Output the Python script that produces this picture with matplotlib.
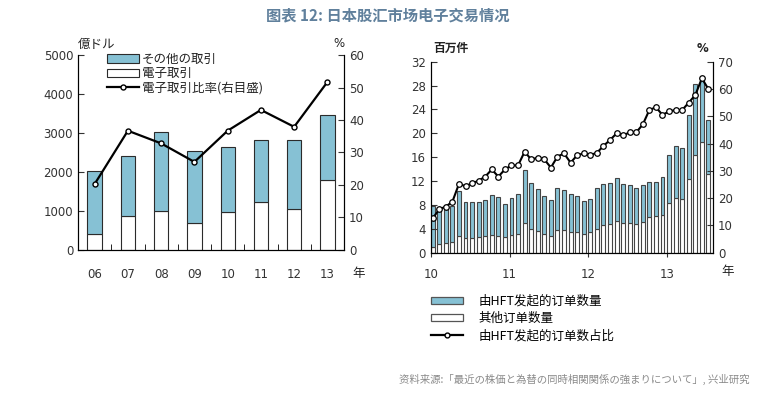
'''
Japan equity / FX electronic trading: annual bars (left) and monthly HFT orders (right)
'''
import numpy as np
import matplotlib.pyplot as plt
from matplotlib.patches import Patch
from matplotlib.lines import Line2D

plt.rcParams['font.family'] = ['DejaVu Sans', 'Noto Sans CJK JP']

# left panel data (億ドル, %)
years = ["06", "07", "08", "09", "10", "11", "12", "13"]
electronic = [410, 880, 1000, 690, 970, 1220, 1060, 1790]
other = [1610, 1520, 2030, 1860, 1680, 1610, 1770, 1670]
electronic_ratio = [20.3, 36.7, 32.8, 27.1, 36.7, 43.1, 37.9, 51.7]

# right panel data, monthly Jan 2010 - Jul 2013 (百万件, %)
month_bottom = [1.0, 1.4, 1.6, 1.8, 2.8, 2.5, 2.5, 2.6, 2.8, 3.0, 2.8, 2.7,
                3.0, 3.2, 5.0, 4.0, 3.6, 3.2, 2.8, 3.8, 3.8, 3.4, 3.4, 3.2,
                3.5, 4.0, 4.6, 4.8, 5.3, 5.0, 5.0, 4.8, 5.2, 6.0, 6.2, 6.4,
                8.4, 9.2, 9.0, 12.4, 16.4, 18.6, 13.2]
month_total = [7.8, 7.3, 7.5, 7.8, 10.4, 8.5, 8.5, 8.5, 8.9, 9.7, 9.3, 8.1,
               9.1, 9.9, 13.8, 11.7, 10.6, 9.5, 8.8, 10.9, 10.5, 9.9, 9.5, 8.7,
               9.0, 10.9, 11.5, 11.6, 12.5, 11.5, 11.3, 10.9, 11.3, 11.9, 11.9, 12.7,
               16.4, 17.8, 17.5, 23.1, 28.2, 29.1, 22.3]
month_ratio = [12.6, 15.9, 16.9, 18.7, 25.2, 24.4, 25.4, 26.4, 27.9, 30.5, 27.9, 30.5,
               32.0, 32.0, 37.0, 34.2, 34.8, 34.2, 31.2, 35.2, 36.4, 33.0, 35.7, 36.4,
               35.8, 36.6, 39.1, 41.3, 43.7, 43.0, 44.1, 44.1, 47.0, 52.3, 53.3, 50.5,
               51.8, 52.3, 52.3, 55.0, 57.8, 63.9, 59.9]
year_ticks = ["10", "11", "12", "13"]

blue = "#86c1d4"
edge = "#2b2b2b"
tick_color = "#333333"

fig = plt.figure(figsize=(7.81, 3.94), dpi=100)

fig.text(0.497, 0.962, "图表 12: 日本股汇市场电子交易情况", ha="center", va="center",
         fontsize=11, color="#60809c", fontweight="bold",
         family=["Noto Sans CJK SC", "DejaVu Sans"])
fig.text(0.96, 0.038, "资料来源:「最近の株価と為替の同時相関関係の強まりについて」, 兴业研究",
         ha="right", va="center", fontsize=7.5, color="#8a8a8a",
         family=["Noto Sans CJK JP", "DejaVu Sans"])

# ---- left panel
ax1 = fig.add_axes([0.0999, 0.3655, 0.3406, 0.4949])
x = np.arange(len(years))
ax1.bar(x, electronic, width=0.43, color="white", edgecolor=edge, linewidth=0.8)
ax1.bar(x, other, width=0.43, bottom=electronic, color=blue, edgecolor=edge, linewidth=0.8)
ax1.set_ylim(0, 5000)
ax1.set_yticks(range(0, 5001, 1000))
ax1.set_xlim(-0.5, len(years) - 0.5)
ax1.set_xticks(x, years)
ax1.set_xticks(np.arange(-0.5, len(years)), minor=True)
ax1.tick_params(axis="x", which="major", length=0, pad=13)
ax1.tick_params(axis="x", which="minor", direction="in", length=4)
ax1.tick_params(axis="y", direction="in", length=4)
ax1.tick_params(labelsize=8.5, colors=tick_color)
ax1.spines["top"].set_visible(False)

ax1r = ax1.twinx()
ax1r.plot(x, electronic_ratio, color="black", linewidth=1.6, marker="o", markersize=3.6,
          markerfacecolor="white", markeredgecolor="black", markeredgewidth=1)
ax1r.set_ylim(0, 60)
ax1r.set_yticks(range(0, 61, 10))
ax1r.tick_params(axis="y", direction="in", length=4, labelsize=8.5, colors=tick_color)
ax1r.spines["top"].set_visible(False)

ax1.text(0.0, 1.02, "億ドル", transform=ax1.transAxes, ha="left", va="bottom",
         fontsize=9, color="#222222", family=["Noto Sans CJK JP"])
ax1.text(1.0, 1.025, "%", transform=ax1.transAxes, ha="right", va="bottom",
         fontsize=8.5, color="#222222")
ax1.text(1.03, -0.12, "年", transform=ax1.transAxes, ha="left", va="center",
         fontsize=9, color="#222222", family=["Noto Sans CJK JP"])

handles1 = [Patch(facecolor=blue, edgecolor=edge, linewidth=0.8),
            Patch(facecolor="white", edgecolor=edge, linewidth=0.8),
            Line2D([], [], color="black", linewidth=1.6, marker="o", markersize=3.6,
                   markerfacecolor="white", markeredgecolor="black")]
leg1 = ax1.legend(handles1, ["その他の取引", "電子取引", "電子取引比率(右目盛)"],
                  loc="upper left", bbox_to_anchor=(0.09, 1.035), frameon=False,
                  handlelength=2.6, handleheight=0.7, handletextpad=0.2,
                  labelspacing=0.1, borderaxespad=0,
                  prop={"family": ["Noto Sans CJK JP"], "size": 9})
for t in leg1.get_texts():
    t.set_color("#222222")

# ---- right panel
ax2 = fig.add_axes([0.5515, 0.3586, 0.3615, 0.4848])
m = np.arange(len(month_total))
month_top = np.array(month_total) - np.array(month_bottom)
ax2.bar(m, month_bottom, width=0.6, align="edge", color="white", edgecolor="#444444",
        linewidth=0.8)
ax2.bar(m, month_top, width=0.6, align="edge", bottom=month_bottom, color=blue,
        edgecolor="#444444", linewidth=0.8)
ax2.set_xlim(0, 43)
ax2.set_ylim(0, 32)
ax2.set_yticks(range(0, 33, 4))
ax2.set_xticks(np.arange(0, 37, 12), year_ticks)
ax2.tick_params(axis="x", direction="out", length=3, pad=8)
ax2.tick_params(axis="y", direction="in", length=4)
ax2.tick_params(labelsize=8.5, colors=tick_color)
ax2.spines["top"].set_visible(False)

ax2r = ax2.twinx()
ax2r.plot(m + 0.3, month_ratio, color="black", linewidth=1.5, marker="o", markersize=4,
          markerfacecolor="white", markeredgecolor="black", markeredgewidth=0.9)
ax2r.set_ylim(0, 70)
ax2r.set_yticks(range(0, 71, 10))
ax2r.tick_params(axis="y", direction="in", length=4, labelsize=8.5, colors=tick_color)
ax2r.spines["top"].set_visible(False)

ax2.text(0.01, 1.035, "百万件", transform=ax2.transAxes, ha="left", va="bottom",
         fontsize=8.5, color="#222222", fontweight="bold", family=["Noto Sans CJK SC"])
ax2.text(0.985, 1.035, "%", transform=ax2.transAxes, ha="right", va="bottom",
         fontsize=8.5, color="#222222", fontweight="bold")
ax2.text(1.03, -0.10, "年", transform=ax2.transAxes, ha="left", va="center",
         fontsize=9, color="#222222", family=["Noto Sans CJK SC"])

handles2 = [Patch(facecolor=blue, edgecolor="#555555", linewidth=0.9),
            Patch(facecolor="white", edgecolor="#555555", linewidth=0.9),
            Line2D([], [], color="black", linewidth=1.6, marker="o", markersize=3.5,
                   markerfacecolor="white", markeredgecolor="black")]
fig.legend(handles2, ["由HFT发起的订单数量", "其他订单数量", "由HFT发起的订单数占比"],
           loc="upper left", bbox_to_anchor=(0.545, 0.265), frameon=False,
           handlelength=2.6, handleheight=0.5, handletextpad=1.2, labelspacing=0.35,
           borderaxespad=0, prop={"family": ["Noto Sans CJK SC"], "size": 9})

fig.savefig("out.png", dpi=100)
